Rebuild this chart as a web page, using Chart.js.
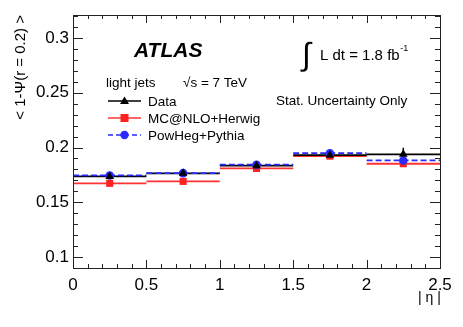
<!DOCTYPE html>
<html>
<head>
<meta charset="utf-8">
<script src="https://cdn.jsdelivr.net/npm/chart.js@4/dist/chart.umd.min.js"></script>
<style>
html,body{margin:0;padding:0;background:#fff;}
#c{display:block;}
</style>
</head>
<body>
<canvas id="c" width="463" height="327"></canvas>
<script>
// ---- data ----
const binEdges   = [0, 0.5, 1.0, 1.5, 2.0, 2.5];
const binCenters = [0.25, 0.75, 1.25, 1.75, 2.25];
const dataVals   = [0.1736, 0.1764, 0.1834, 0.1930, 0.1938];
const dataErr    = [0.0012, 0.0012, 0.0012, 0.0030, 0.0060];
const mcnloVals  = [0.1673, 0.1691, 0.1809, 0.1921, 0.1852];
const powhegVals = [0.1745, 0.1766, 0.1843, 0.1948, 0.1882];
const xTickVals  = [0, 0.5, 1, 1.5, 2, 2.5];
const yTickVals  = [0.1, 0.15, 0.2, 0.25, 0.3];
const xRange = [0, 2.5];
const yRange = [0.09, 0.321];

const FONT = '"Liberation Sans", Arial, Helvetica, sans-serif';

function stepSegments(vals) {
  const pts = [];
  vals.forEach((v, i) => {
    pts.push({x: binEdges[i], y: v});
    pts.push({x: binEdges[i + 1], y: v});
    pts.push({x: binEdges[i + 1], y: null});
  });
  return pts;
}
function centerPoints(vals) {
  return vals.map((v, i) => ({x: binCenters[i], y: v}));
}

const overlay = {
  id: 'overlay',
  beforeDatasetsDraw(chart) {
    const ctx = chart.ctx, xs = chart.scales.x, ys = chart.scales.y;
    ctx.save();
    ctx.strokeStyle = '#000';
    ctx.lineWidth = 1.5;
    dataVals.forEach((v, i) => {
      const px = xs.getPixelForValue(binCenters[i]);
      ctx.beginPath();
      ctx.moveTo(px, ys.getPixelForValue(v - dataErr[i]));
      ctx.lineTo(px, ys.getPixelForValue(v + dataErr[i]));
      ctx.stroke();
    });
    ctx.restore();
  },
  afterDraw(chart) {
    const ctx = chart.ctx, a = chart.chartArea, xs = chart.scales.x, ys = chart.scales.y;
    ctx.save();
    // frame
    ctx.strokeStyle = '#222';
    ctx.lineWidth = 1;
    ctx.strokeRect(Math.round(a.left) + 0.5, Math.round(a.top) + 0.5,
                   Math.round(a.right - a.left), Math.round(a.bottom - a.top));
    // x ticks (bottom + top), inward
    ctx.beginPath();
    for (let k = 0; k <= 25; k++) {
      const v = k / 10;
      const px = Math.round(xs.getPixelForValue(v)) + 0.5;
      const len = (k % 5 === 0) ? 8 : 4;
      ctx.moveTo(px, a.bottom); ctx.lineTo(px, a.bottom - len);
      ctx.moveTo(px, a.top);    ctx.lineTo(px, a.top + len);
    }
    // y ticks (left + right), inward
    for (let k = 9; k <= 32; k++) {
      const v = k / 100;
      const py = Math.round(ys.getPixelForValue(v)) + 0.5;
      const len = (k % 5 === 0) ? 10 : 5;
      ctx.moveTo(a.left, py);  ctx.lineTo(a.left + len, py);
      ctx.moveTo(a.right, py); ctx.lineTo(a.right - len, py);
    }
    ctx.stroke();

    // texts
    ctx.fillStyle = '#000';
    ctx.textBaseline = 'alphabetic';
    ctx.textAlign = 'left';
    ctx.font = 'italic bold 21px ' + FONT;
    ctx.fillText('ATLAS', 134, 57);

    ctx.font = '32px ' + FONT;
    ctx.fillText('∫', 302, 65);
    ctx.font = '15px ' + FONT;
    const lumi = 'L dt = 1.8 fb';
    ctx.fillText(lumi, 320, 60);
    const lw = ctx.measureText(lumi).width;
    ctx.font = '9px ' + FONT;
    ctx.fillText('-1', 320 + lw + 0.5, 51);

    ctx.font = '13.5px ' + FONT;
    ctx.fillText('light jets', 106, 87);
    ctx.fillText('√s = 7 TeV', 183, 87);
    ctx.fillText('Stat. Uncertainty Only', 276, 105);
    ctx.fillText('Data', 148, 106);
    ctx.fillText('MC@NLO+Herwig', 148, 123);
    ctx.fillText('PowHeg+Pythia', 148, 140);

    // legend symbols
    const lx0 = 108, lx1 = 141, mx = 124.5;
    ctx.lineWidth = 1.5;
    ctx.strokeStyle = '#000';
    ctx.beginPath(); ctx.moveTo(lx0, 101); ctx.lineTo(lx1, 101); ctx.stroke();
    ctx.beginPath(); ctx.moveTo(mx, 96.5); ctx.lineTo(mx + 4.5, 104); ctx.lineTo(mx - 4.5, 104); ctx.closePath();
    ctx.fillStyle = '#000'; ctx.fill();
    ctx.strokeStyle = '#ff3333';
    ctx.beginPath(); ctx.moveTo(lx0, 118); ctx.lineTo(lx1, 118); ctx.stroke();
    ctx.fillStyle = '#ff2020'; ctx.fillRect(mx - 4, 114, 8, 8);
    ctx.strokeStyle = '#2a2aff';
    ctx.setLineDash([5, 3]);
    ctx.beginPath(); ctx.moveTo(lx0, 135); ctx.lineTo(lx1, 135); ctx.stroke();
    ctx.setLineDash([]);
    ctx.fillStyle = '#2a2aff';
    ctx.beginPath(); ctx.arc(mx, 135, 4.2, 0, Math.PI * 2); ctx.fill();

    // axis titles
    ctx.fillStyle = '#000';
    ctx.font = '14px ' + FONT;
    ctx.fillText('| η |', 418, 302);
    ctx.save();
    ctx.translate(25, 15);
    ctx.rotate(-Math.PI / 2);
    ctx.textAlign = 'right';
    ctx.font = '15px ' + FONT;
    ctx.fillText('< 1-Ψ(r = 0.2) >', 0, 0);
    ctx.restore();
    ctx.restore();
  }
};

new Chart(document.getElementById('c'), {
  type: 'line',
  data: {
    datasets: [
      { label: 'Data', data: centerPoints(dataVals), showLine: false,
        pointStyle: 'triangle', pointRadius: 5, backgroundColor: '#000', borderColor: '#000',
        borderWidth: 0, order: 1 },
      { label: 'PowHeg+Pythia pts', data: centerPoints(powhegVals), showLine: false,
        pointStyle: 'circle', pointRadius: 4.3, backgroundColor: '#2a2aff', borderColor: '#2a2aff',
        borderWidth: 0, order: 2 },
      { label: 'MC@NLO+Herwig pts', data: centerPoints(mcnloVals), showLine: false,
        pointStyle: 'rect', pointRadius: 5, backgroundColor: '#ff2020', borderColor: '#ff2020',
        borderWidth: 0, order: 3 },
      { label: 'PowHeg+Pythia', data: stepSegments(powhegVals), borderColor: '#2a2aff',
        borderWidth: 1.8, borderDash: [6, 3], pointRadius: 0, spanGaps: false, order: 4 },
      { label: 'Data line', data: stepSegments(dataVals), borderColor: '#000',
        borderWidth: 1.8, pointRadius: 0, spanGaps: false, order: 5 },
      { label: 'MC@NLO+Herwig', data: stepSegments(mcnloVals), borderColor: '#ff3333',
        borderWidth: 1.8, pointRadius: 0, spanGaps: false, order: 6 }
    ]
  },
  options: {
    responsive: false,
    animation: false,
    devicePixelRatio: 1,
    layout: { padding: { left: 0, right: 23, top: 15, bottom: 0 } },
    plugins: { legend: { display: false }, tooltip: { enabled: false } },
    scales: {
      x: {
        type: 'linear', min: xRange[0], max: xRange[1],
        grid: { display: false, drawTicks: false }, border: { display: false },
        afterBuildTicks: s => { s.ticks = xTickVals.map(v => ({value: v})); },
        afterFit: s => { s.height = 59; },
        ticks: { autoSkip: false, maxRotation: 0, padding: 7, color: '#000',
                 font: { family: FONT, size: 17 },
                 callback: v => String(v) }
      },
      y: {
        type: 'linear', min: yRange[0], max: yRange[1],
        grid: { display: false, drawTicks: false }, border: { display: false },
        afterBuildTicks: s => { s.ticks = yTickVals.map(v => ({value: v})); },
        afterFit: s => { s.width = 73; },
        ticks: { autoSkip: false, padding: 4, color: '#000',
                 font: { family: FONT, size: 17 },
                 callback: v => String(+(+v).toFixed(2)) }
      }
    }
  },
  plugins: [overlay]
});
</script>
</body>
</html>
